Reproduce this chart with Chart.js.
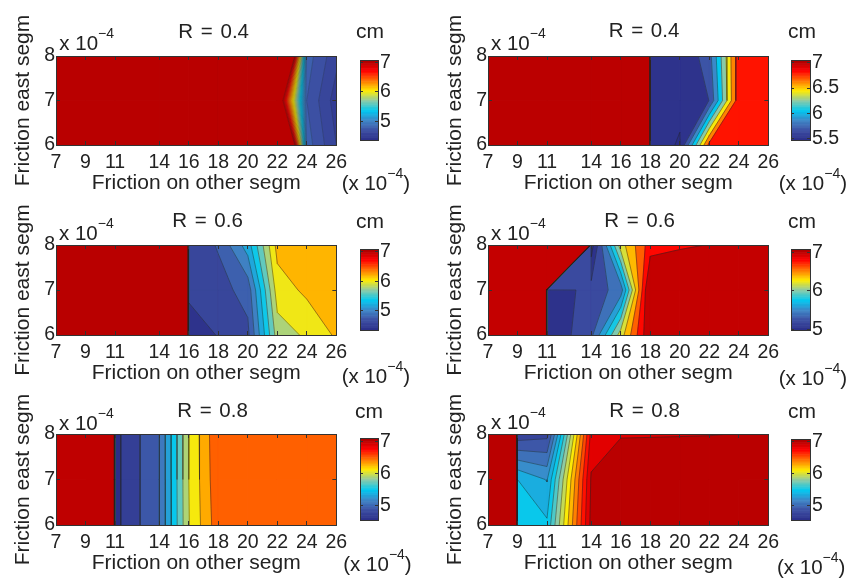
<!DOCTYPE html>
<html><head><meta charset="utf-8">
<script src="https://cdn.jsdelivr.net/npm/chart.js@4.4.1/dist/chart.umd.min.js"></script>
<style>
html,body{margin:0;padding:0;overflow:hidden;background:#fff}
body{position:relative;width:854px;height:581px;font-family:'Liberation Sans',Arial,Helvetica,sans-serif;color:#222}
canvas{position:absolute}
.t{position:absolute;white-space:nowrap;line-height:1}
.sup{font-size:14px;position:relative;top:-12px}
</style></head><body>
<script>
// ---------- DATA ----------
const xValues = [7, 9, 11, 14, 16, 18, 20, 22, 24, 26];
const yValues = [6, 7, 8];
const xTicks = [7, 9, 11, 14, 16, 18, 20, 22, 24, 26];
const yTicks = [6, 7, 8];
const titles = ['R = 0.4', 'R = 0.4', 'R = 0.6', 'R = 0.6', 'R = 0.8', 'R = 0.8'];

// rows: friction east segm = 6, 7, 8 (x 1e-4); columns follow xValues; values in cm
const z04a = [
  [100, 100, 100, 100, 100, 100, 100, 10.08, 4.85, 4.6],
  [100, 100, 100, 100, 100, 100, 100, 7.51, 4.8, 4.55],
  [100, 100, 100, 100, 100, 100, 100, 10.08, 4.85, 4.63]
];
const z04b = [
  [100, 100, 100, 100, 100, 5.6, 5.48, 6.88, 6.95, 6.96],
  [100, 100, 100, 100, 100, 5.6, 5.55, 5.69, 6.94, 6.95],
  [100, 100, 100, 100, 100, 5.6, 5.5, 5.8, 6.925, 6.95]
];
const z06a = [
  [100, 100, 100, 100, 4.5, 4.61, 4.75, 5.9, 6.033, 6.23],
  [100, 100, 100, 100, 4.64, 4.72, 4.88, 6.1, 6.243, 6.3],
  [100, 100, 100, 100, 4.65, 4.82, 5.3, 6.27, 6.3, 6.32]
];
const z06b = [
  [100, 100, 5.02, 5.35, 6.3, 7.2, 7.6, 7.6, 7.6, 7.6],
  [100, 100, 5.05, 5.28, 5.49, 7.3, 7.5, 7.6, 7.6, 7.6],
  [100, 100, 100, 4.9, 6.31, 6.9, 6.944, 7.01, 7.5, 7.5]
];
const z08a = [
  [100, 100, 4.64, 5.1, 6.09, 6.62, 6.6, 6.6, 6.6, 6.6],
  [100, 100, 4.64, 5.1, 6.1, 6.65, 6.6, 6.6, 6.6, 6.6],
  [100, 100, 4.64, 5.1, 6.1, 6.671, 6.6, 6.6, 6.6, 6.6]
];
const z08b = [
  [100, 5.6, 5.528, 7.05, 7.5, 7.5, 7.5, 7.5, 7.5, 7.5],
  [100, 5.5, 5.34, 7.02, 7.5, 7.5, 7.5, 7.5, 7.5, 7.5],
  [100, 4.8, 4.85, 6.9, 6.95, 6.96, 6.97, 6.98, 7.01, 7.02]
];

const levels04a = [4.4,4.5,4.6,4.7,4.8,4.9,5.0,5.1,5.2,5.3,5.4,5.5,5.6,5.7,5.8,5.9,6.0,6.1,6.2,6.3,6.4,6.5,6.6,6.7,6.8,6.9,7.0];
const levels04b = [5.5,5.6875,5.875,6.0625,6.25,6.4375,6.625,6.8125,7.0];
const levels06a = [4.4,4.6,4.8,5.0,5.2,5.4,5.6,5.8,6.0,6.2,6.4,6.6,6.8,7.0];
const levels06b = [5.0,5.2,5.4,5.6,5.8,6.0,6.2,6.4,6.6,6.8,7.0];
const levels08a = [4.5,4.7,4.9,5.1,5.3,5.5,5.7,5.9,6.1,6.3,6.5,6.7,6.9,7.0];
const levels08b = [4.6,4.75,4.9,5.05,5.2,5.35,5.5,5.65,5.8,5.95,6.1,6.25,6.4,6.55,6.7,6.85,7.0];

const cbar04a = [4.35, 7.06];
const cbar04b = [5.47, 7.04];
const cbar06a = [4.35, 7.06];
const cbar06b = [4.97, 7.08];
const cbar08a = [4.53, 7.08];
const cbar08b = [4.53, 7.06];

const cbarTicks04a = [5, 6, 7];
const cbarTicks04b = [5.5, 6, 6.5, 7];
const cbarTicks06a = [5, 6, 7];
const cbarTicks06b = [5, 6, 7];
const cbarTicks08a = [5, 6, 7];
const cbarTicks08b = [5, 6, 7];

// ---------- STYLE / LAYOUT ----------
const CMAP = [[0,[43,46,136]],[0.125,[60,78,162]],[0.25,[63,133,198]],[0.375,[0,200,240]],
              [0.5,[140,202,168]],[0.625,[255,235,0]],[0.875,[255,0,0]],[1,[170,0,0]]];
function cmap(t) {
  t = Math.max(0, Math.min(1, t));
  for (let i = 1; i < CMAP.length; i++) {
    if (t <= CMAP[i][0]) {
      const [t0, c0] = CMAP[i-1], [t1, c1] = CMAP[i];
      const f = (t - t0) / (t1 - t0);
      return 'rgb(' + c0.map((v, k) => Math.round(v + (c1[k] - v) * f)).join(',') + ')';
    }
  }
  return 'rgb(170,0,0)';
}

const panels = [
  {z: z04a, levels: levels04a, cbar: cbar04a, cticks: cbarTicks04a, lw: 0.35},
  {z: z04b, levels: levels04b, cbar: cbar04b, cticks: cbarTicks04b, lw: 0.6},
  {z: z06a, levels: levels06a, cbar: cbar06a, cticks: cbarTicks06a, lw: 0.6},
  {z: z06b, levels: levels06b, cbar: cbar06b, cticks: cbarTicks06b, lw: 0.6},
  {z: z08a, levels: levels08a, cbar: cbar08a, cticks: cbarTicks08a, lw: 0.6},
  {z: z08b, levels: levels08b, cbar: cbar08b, cticks: cbarTicks08b, lw: 0.6}
];
const boxes = [
  {pl:56, pt:56, pw:289, ph:89, cb:[360,56,18,89], title:[213.7,38.3], cm:[370,37.3], exp:[59.3,50.5], exp2:[341.7,190.7]},
  {pl:488, pt:56, pw:289, ph:89, cb:[791,56,19,89], title:[644,37.5], cm:[802,37.3], exp:[491,50.7], exp2:[778.7,190.7]},
  {pl:56, pt:245, pw:289, ph:90, cb:[360,245,18,90], title:[207.5,227.3], cm:[370,227.3], exp:[59,240.7], exp2:[341.7,383.3]},
  {pl:488, pt:245, pw:289, ph:90, cb:[791,245,19,90], title:[639.5,227.7], cm:[802,227.3], exp:[491,240.7], exp2:[778.7,385]},
  {pl:56, pt:434, pw:289, ph:91, cb:[360,434,18,91], title:[212.5,417.3], cm:[369,417.3], exp:[59,430], exp2:[343.3,571.7]},
  {pl:488, pt:434, pw:289, ph:91, cb:[791,435,19,90], title:[644.5,417.3], cm:[802,417.3], exp:[491,429.3], exp2:[777,574]}
];

Chart.defaults.font.family = "'Liberation Sans', Arial, Helvetica, sans-serif";
Chart.defaults.color = '#222';

// ---------- CONTOUR (marching squares, straight segments) ----------
function superlevel(c, L) {
  const inside = c.map(p => p[2] >= L);
  const cross = (a, b) => { const t = (L - a[2]) / (b[2] - a[2]); return [a[0] + t * (b[0] - a[0]), a[1] + t * (b[1] - a[1])]; };
  const nIn = inside.filter(Boolean).length;
  const center = (c[0][2] + c[1][2] + c[2][2] + c[3][2]) / 4;
  const polys = [], segs = [];
  if (nIn === 2 && inside[0] === inside[2] && center < L) {
    for (let q = 0; q < 4; q++) if (inside[q]) {
      const cur = c[q], nx = c[(q + 1) % 4], pv = c[(q + 3) % 4];
      const a = cross(cur, nx), b = cross(pv, cur);
      polys.push([[cur[0], cur[1]], a, b]);
      segs.push([a, b]);
    }
    return {polys, segs};
  }
  const poly = [], isX = [];
  for (let q = 0; q < 4; q++) {
    const a = c[q], b = c[(q + 1) % 4];
    if (inside[q]) { poly.push([a[0], a[1]]); isX.push(false); }
    if (inside[q] !== inside[(q + 1) % 4]) { poly.push(cross(a, b)); isX.push(true); }
  }
  for (let m = 0; m < poly.length; m++) {
    const n = (m + 1) % poly.length;
    if (isX[m] && isX[n]) segs.push([poly[m], poly[n]]);
  }
  polys.push(poly);
  return {polys, segs};
}
function contourBands(z, levels) {
  const nb = levels.length;
  const bands = Array.from({length: nb + 1}, () => []);
  const segs = [];
  for (let j = 0; j < yValues.length - 1; j++) {
    for (let i = 0; i < xValues.length - 1; i++) {
      const c = [
        [xValues[i], yValues[j], z[j][i]],
        [xValues[i + 1], yValues[j], z[j][i + 1]],
        [xValues[i + 1], yValues[j + 1], z[j + 1][i + 1]],
        [xValues[i], yValues[j + 1], z[j + 1][i]]
      ];
      const zs = c.map(p => p[2]);
      const zmin = Math.min(...zs), zmax = Math.max(...zs);
      let k0 = -1;
      for (let k = 0; k < nb; k++) if (levels[k] <= zmin) k0 = k;
      bands[k0 + 1].push(c.map(p => [p[0], p[1]]));
      for (let k = k0 + 1; k < nb && levels[k] <= zmax; k++) {
        const r = superlevel(c, levels[k]);
        r.polys.forEach(p => bands[k + 1].push(p));
        r.segs.forEach(s => segs.push(s));
      }
    }
  }
  return {bands, segs};
}

// ---------- HELPERS ----------
function makeCanvas(left, top, w, h) {
  const c = document.createElement('canvas');
  c.width = w; c.height = h;
  c.style.left = left + 'px'; c.style.top = top + 'px';
  c.style.width = w + 'px'; c.style.height = h + 'px';
  document.body.appendChild(c);
  return c;
}
function addText(html, x, baseline, size, center, extra) {
  const d = document.createElement('div');
  d.className = 't';
  d.innerHTML = html;
  d.style.fontSize = size + 'px';
  d.style.top = (baseline - 0.8465 * size) + 'px';
  d.style.left = x + 'px';
  if (center) d.style.transform = 'translateX(-50%)';
  if (extra) Object.assign(d.style, extra);
  document.body.appendChild(d);
}
const setTicks = vals => (s => { s.ticks = vals.map(v => ({value: v})); });
const gridOpts = len => ({display: true, drawOnChartArea: false, drawTicks: true, tickLength: len, tickColor: '#333', tickWidth: 1, z: 1});
const borderOpts = {display: true, color: '#333', width: 1, z: 1};
const tickFont = {size: 19.5};

function polyData(polys) {
  const data = [];
  polys.forEach(poly => {
    poly.forEach(p => data.push({x: p[0], y: p[1]}));
    data.push({x: poly[0][0], y: poly[0][1]});
    data.push({x: null, y: null});
  });
  return data;
}

function plotChart(p, b) {
  const {bands, segs} = contourBands(p.z, p.levels);
  const range = p.cbar[1] - p.cbar[0];
  const datasets = [];
  bands.forEach((polys, bi) => {
    if (!polys.length) return;
    const t = bi === 0 ? 0 : (p.levels[bi - 1] - p.cbar[0]) / range;
    const col = cmap(t);
    datasets.push({data: polyData(polys), showLine: true, fill: 'shape', backgroundColor: col, borderColor: col,
      borderWidth: 0.8, borderJoinStyle: 'round', pointRadius: 0, order: 1000 - bi, spanGaps: false});
  });
  const ldata = [];
  segs.forEach(s => { ldata.push({x: s[0][0], y: s[0][1]}, {x: s[1][0], y: s[1][1]}, {x: null, y: null}); });
  datasets.push({data: ldata, showLine: true, fill: false, borderColor: 'rgba(35,35,35,0.75)', borderWidth: p.lw,
    pointRadius: 0, order: 0, spanGaps: false});

  const cv = makeCanvas(b.pl - 56, b.pt - 45, 56 + b.pw + 12, 45 + b.ph + 52);
  new Chart(cv, {
    type: 'scatter',
    data: {datasets},
    options: {
      responsive: false, animation: false, devicePixelRatio: 1, events: [],
      layout: {padding: 0, autoPadding: false},
      plugins: {legend: {display: false}, tooltip: {enabled: false}},
      scales: {
        x: {type: 'linear', position: 'bottom', min: 7, max: 26, afterBuildTicks: setTicks(xTicks), afterFit: s => { s.height = 52; },
            ticks: {font: tickFont, color: '#222', padding: 9.8, maxRotation: 0, autoSkip: false, callback: v => String(v)},
            grid: gridOpts(-4), border: borderOpts,
            title: {display: true, text: 'Friction on other segm', font: {size: 21}, color: '#222', padding: {top: 0, bottom: 0.9}}},
        xTop: {type: 'linear', position: 'top', min: 7, max: 26, afterBuildTicks: setTicks(xTicks), afterFit: s => { s.height = 45; },
            ticks: {display: false}, grid: gridOpts(-4), border: borderOpts},
        y: {type: 'linear', position: 'left', min: 6, max: 8, afterBuildTicks: setTicks(yTicks), afterFit: s => { s.width = 56; },
            ticks: {font: tickFont, color: '#222', padding: 5, callback: v => String(v)},
            grid: gridOpts(-4), border: borderOpts,
            title: {display: true, text: 'Friction east segm', font: {size: 21}, color: '#222', padding: {top: 10.9, bottom: 0}}},
        yRight: {type: 'linear', position: 'right', min: 6, max: 8, afterBuildTicks: setTicks(yTicks), afterFit: s => { s.width = 12; },
            ticks: {display: false}, grid: gridOpts(-4), border: borderOpts}
      }
    }
  });
}

function colorbarChart(p, b) {
  const [cl, ct, cw, ch] = b.cb;
  const N = 64, r0 = p.cbar[0], r1 = p.cbar[1];
  const datasets = [];
  for (let i = 0; i < N; i++) {
    const y0 = r0 + (r1 - r0) * i / N, y1 = r0 + (r1 - r0) * (i + 1) / N;
    const col = cmap((i + 0.5) / N);
    datasets.push({data: [{x: 0, y: y0}, {x: 1, y: y0}, {x: 1, y: y1}, {x: 0, y: y1}, {x: 0, y: y0}],
      showLine: true, fill: 'shape', backgroundColor: col, borderColor: col, borderWidth: 0.8, pointRadius: 0, order: 100 - i});
  }
  const cv = makeCanvas(cl - 2, ct - 12, 2 + cw + 50, 12 + ch + 12);
  new Chart(cv, {
    type: 'scatter',
    data: {datasets},
    options: {
      responsive: false, animation: false, devicePixelRatio: 1, events: [],
      layout: {padding: 0, autoPadding: false},
      plugins: {legend: {display: false}, tooltip: {enabled: false}},
      scales: {
        x: {type: 'linear', position: 'bottom', min: 0, max: 1, afterFit: s => { s.height = 12; },
            ticks: {display: false}, grid: {display: true, drawOnChartArea: false, drawTicks: false}, border: borderOpts},
        xT: {type: 'linear', position: 'top', min: 0, max: 1, afterFit: s => { s.height = 12; },
            ticks: {display: false}, grid: {display: true, drawOnChartArea: false, drawTicks: false}, border: borderOpts},
        yL: {type: 'linear', position: 'left', min: r0, max: r1, afterBuildTicks: setTicks(p.cticks), afterFit: s => { s.width = 2; },
            ticks: {display: false}, grid: gridOpts(-3), border: borderOpts},
        y: {type: 'linear', position: 'right', min: r0, max: r1, afterBuildTicks: setTicks(p.cticks), afterFit: s => { s.width = 50; },
            ticks: {font: tickFont, color: '#222', padding: 5, callback: v => String(v)}, grid: gridOpts(-3), border: borderOpts}
      }
    }
  });
}

panels.forEach((p, i) => {
  const b = boxes[i];
  plotChart(p, b);
  colorbarChart(p, b);
});
panels.forEach((p, i) => {
  const b = boxes[i];
  addText(titles[i], b.title[0], b.title[1], 20.5, true, {wordSpacing: '2px'});
  addText('cm', b.cm[0], b.cm[1], 21, true);
  addText('x 10<span class="sup">\u22124</span>', b.exp[0], b.exp[1], 20.5, false);
  addText('(x 10<span class="sup">\u22124</span>)', b.exp2[0], b.exp2[1], 20.5, false);
});
</script>
</body></html>
